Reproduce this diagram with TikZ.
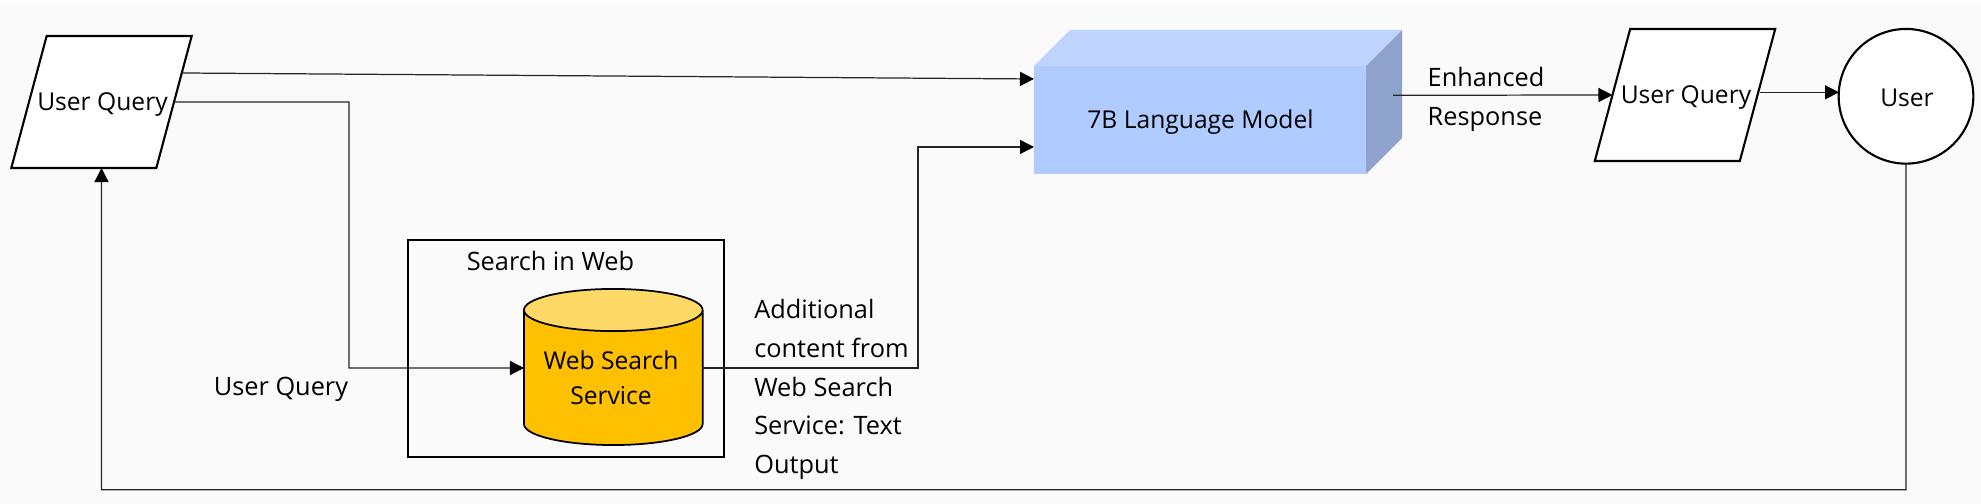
\documentclass[tikz,border=0pt]{standalone}
\usepackage{fontspec}
\setmainfont{Open Sans}
\usetikzlibrary{shapes.geometric,arrows.meta}
\definecolor{pagegray}{HTML}{FAFAFA}
\definecolor{modelfront}{HTML}{AFCBFF}
\definecolor{modeltop}{HTML}{BFD4FF}
\definecolor{modelside}{HTML}{8EA2CC}
\definecolor{servicebody}{HTML}{FFC000}
\definecolor{servicetop}{HTML}{FFD966}
\tikzset{
  txt/.style={inner sep=0pt,font=\fontsize{7.2}{11}\selectfont},
  boxtxt/.style={inner sep=0pt,font=\fontsize{7}{10}\selectfont},
  iobox/.style={trapezium,trapezium left angle=75,trapezium right angle=105,
    draw,line width=0.6pt,fill=white,text width=0.95cm,text height=7pt,text depth=2pt,
    inner xsep=0.073cm,inner ysep=0.5015cm,outer sep=0pt},
  conn/.style={line width=0.35pt,black!85,-{Triangle[length=1.4mm,width=1.4mm,black]}}
}

\begin{document}
\begin{tikzpicture}[x=0.01cm,y=-0.01cm]
\useasboundingbox (0,0) rectangle (1981,504);
\fill[pagegray] (0,2) rectangle (1981,504);

% search box and service
\node[draw,line width=0.6pt,minimum width=3.16cm,minimum height=2.17cm,inner sep=0pt,outer sep=0pt] (searchbox) at (566,348.5) {};
\node[txt] (searchtitle) at (550.5,261) {Search in Web};
\node[cylinder,shape border rotate=90,aspect=0.39,draw,line width=0.5pt,cylinder uses custom fill,
  cylinder body fill=servicebody,cylinder end fill=servicetop,minimum width=1.786cm,minimum height=1.56cm,
  text width=1.08cm,text height=8pt,text depth=8pt,inner sep=0pt,outer sep=0pt,anchor=shape center] (service) at (613.3,367) {};
\node[boxtxt,align=center,font=\fontsize{7}{10.1}\selectfont] (servicetext) at (611,378) {Web Search\\Service};

% model block
\node[fill=modelfront,minimum width=3.32cm,minimum height=1.08cm,inner sep=0pt,outer sep=0pt] (model) at (1200,120) {};
\node[boxtxt] (modeltext) at (1200.5,122) {7B Language Model};
\fill[modeltop] (model.north west) -- (1070,30) -- (1402,30) -- (model.north east) -- cycle;
\fill[modelside] (model.north east) -- (1402,30) -- (1402,138) -- (model.south east) -- cycle;

\node[iobox] (queryin) at (101.5,102) {};
\node[boxtxt] (queryintext) at (102.5,104.5) {User Query};
\node[iobox] (queryout) at (1685,95) {};
\node[boxtxt] (queryouttext) at (1686,98) {User Query};
\node[circle,draw,line width=0.6pt,fill=white,minimum size=1.346cm,inner sep=0pt,outer sep=0pt] (user) at (1906,96.3) {};
\node[boxtxt] (usertext) at (1907,98) {User};

\node[txt] (querylabel) at (281,389.5) {User Query};
\node[txt,anchor=north west,align=left] (contentlabel) at (753.6,299) {Additional\\content from\\Web Search\\Service: Text\\Output};
\node[txt,anchor=north west,align=left] (responselabel) at (1427,67) {Enhanced\\Response};

\coordinate (queryport) at (182,73);
\coordinate (modelin) at (1034,79);
\coordinate (modelweb) at (1034,147);
\coordinate (modelport) at (1393,95.3);
\coordinate (outport) at (1760,92.3);
\coordinate (userin) at (1839,92.3);
\coordinate (servicein) at (524,368);
\coordinate (serviceout) at (702.6,368);

\draw[conn] (queryport) -- (modelin);
\draw[conn] (queryin.east) -- (349,102) -- (349,368) -- (servicein);
\draw[conn] (serviceout) -- (918,368) -- (918,147) -- (modelweb);
\draw[conn] (modelport) -- (queryout.west);
\draw[conn] (outport) -- (userin);
\draw[conn] (user.south) -- (1906,489.7) -- (101.5,489.7) -- (queryin.south);

\end{tikzpicture}
\end{document}
